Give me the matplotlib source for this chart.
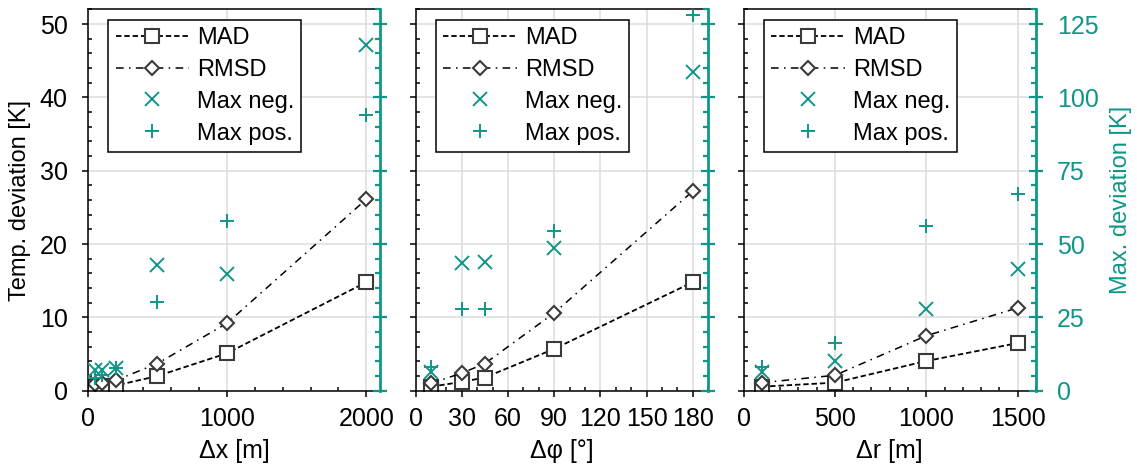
import matplotlib

matplotlib.use("Agg")
import matplotlib.pyplot as plt
from matplotlib.ticker import MultipleLocator

plt.rcParams.update({
    "font.family": ["Liberation Sans", "DejaVu Sans"],
    "font.size": 17,
    "axes.linewidth": 1.1,
})
TEAL = "#0f9688"
EDGE = "#3a3a3a"

# ---- data ----------------------------------------------------------------- #
DX = [50, 100, 200, 500, 1000, 2000]
DX_MAD = [0.5, 0.6, 0.7, 2.0, 5.1, 14.8]
DX_RMSD = [0.9, 1.0, 1.4, 3.7, 9.2, 26.1]
DX_NEG = [7.0, 7.2, 7.6, 42.9, 39.8, 117.7]
DX_POS = [4.5, 5.5, 7.8, 30.2, 57.9, 94.1]

DPHI = [10, 30, 45, 90, 180]
DPHI_MAD = [0.55, 1.2, 1.8, 5.7, 14.8]
DPHI_RMSD = [1.0, 2.4, 3.7, 10.6, 27.2]
DPHI_NEG = [6.5, 43.5, 43.8, 48.6, 108.8]
DPHI_POS = [8.2, 27.8, 27.8, 54.6, 128.0]

DR = [100, 500, 1000, 1500]
DR_MAD = [0.55, 1.1, 4.05, 6.5]
DR_RMSD = [1.1, 2.1, 7.5, 11.3]
DR_NEG = [6.5, 10.1, 27.9, 41.4]
DR_POS = [8.2, 16.2, 56.3, 67.0]

PANELS = [
    (DX, DX_MAD, DX_RMSD, DX_NEG, DX_POS, "Δx [m]", 2100, 1000, 200),
    (DPHI, DPHI_MAD, DPHI_RMSD, DPHI_NEG, DPHI_POS, "Δφ [°]", 190, 30, 10),
    (DR, DR_MAD, DR_RMSD, DR_NEG, DR_POS, "Δr [m]", 1600, 500, 100),
]

fig, axes = plt.subplots(1, 3, figsize=(11.37, 4.7), dpi=100)
fig.subplots_adjust(left=0.0771, right=0.9112, top=0.980, bottom=0.1687,
                    wspace=0.121)

for k, (ax, panel) in enumerate(zip(axes, PANELS)):
    x, mad, rmsd, neg, pos, xlabel, xmax, major, minor = panel
    ax2 = ax.twinx()

    h_mad, = ax.plot(x, mad, color="black", lw=1.3, ls=(0, (3, 1.6)),
                     marker="s", ms=10.5, mfc="white", mec=EDGE, mew=1.5,
                     label="MAD")
    h_rmsd, = ax.plot(x, rmsd, color="black", lw=1.1, ls=(0, (5, 3.5, 1, 3.5)),
                      marker="D", ms=7, mfc="white", mec=EDGE, mew=1.5,
                      label="RMSD")
    h_neg, = ax2.plot(x, neg, ls="none", marker="x", ms=10.5, mew=1.4,
                      color=TEAL, label="Max neg.")
    h_pos, = ax2.plot(x, pos, ls="none", marker="+", ms=10.5, mew=1.4,
                      color=TEAL, label="Max pos.")

    ax.set_xlim(0, xmax)
    ax.set_ylim(0, 52)
    ax2.set_ylim(0, 130)
    ax.xaxis.set_major_locator(MultipleLocator(major))
    ax.xaxis.set_minor_locator(MultipleLocator(minor))
    ax.yaxis.set_major_locator(MultipleLocator(10))
    ax.yaxis.set_minor_locator(MultipleLocator(2))
    ax2.yaxis.set_major_locator(MultipleLocator(25))
    ax2.yaxis.set_minor_locator(MultipleLocator(5))

    ax.grid(True, which="major", color="#dcdcdc", lw=1.1)
    ax.set_axisbelow(True)
    ax.tick_params(which="major", direction="out", length=4.5, width=1.1,
                   labelsize=18)
    ax.tick_params(axis="x", which="major", pad=7)
    ax.tick_params(axis="y", which="major", pad=10)
    ax.tick_params(which="minor", direction="in", length=3, width=1.1)
    ax.tick_params(axis="y", which="both", right=False)
    ax.tick_params(axis="x", which="both", top=False)

    ax.spines["right"].set_visible(False)
    ax2.spines["left"].set_visible(False)
    ax2.spines["top"].set_visible(False)
    ax2.spines["bottom"].set_visible(False)
    ax2.spines["right"].set_color(TEAL)
    ax2.spines["right"].set_linewidth(2)
    ax2.tick_params(which="major", direction="inout", length=10, width=1.6,
                    color=TEAL, labelcolor=TEAL, labelsize=18, pad=10)
    ax2.tick_params(which="minor", direction="in", length=3.6, width=1.6,
                    color=TEAL)

    ax.set_xlabel(xlabel, fontsize=18, labelpad=6)
    if k == 0:
        ax.set_ylabel("Temp. deviation [K]", fontsize=17, labelpad=6)
    else:
        ax.tick_params(axis="y", labelleft=False)
    if k == 2:
        ax2.set_ylabel("Max. deviation [K]", fontsize=17, color=TEAL,
                       labelpad=8)
    else:
        ax2.tick_params(axis="y", labelright=False)

    leg = ax2.legend(handles=[h_mad, h_rmsd, h_neg, h_pos], loc="upper left",
                     bbox_to_anchor=(0.055, 0.985), fontsize=17,
                     handlelength=3.1, handletextpad=0.35, labelspacing=0.42,
                     borderpad=0.3, borderaxespad=0.2, fancybox=False,
                     framealpha=1, edgecolor="black")
    leg.get_frame().set_linewidth(1.1)

fig.savefig("out.png", dpi=100)
